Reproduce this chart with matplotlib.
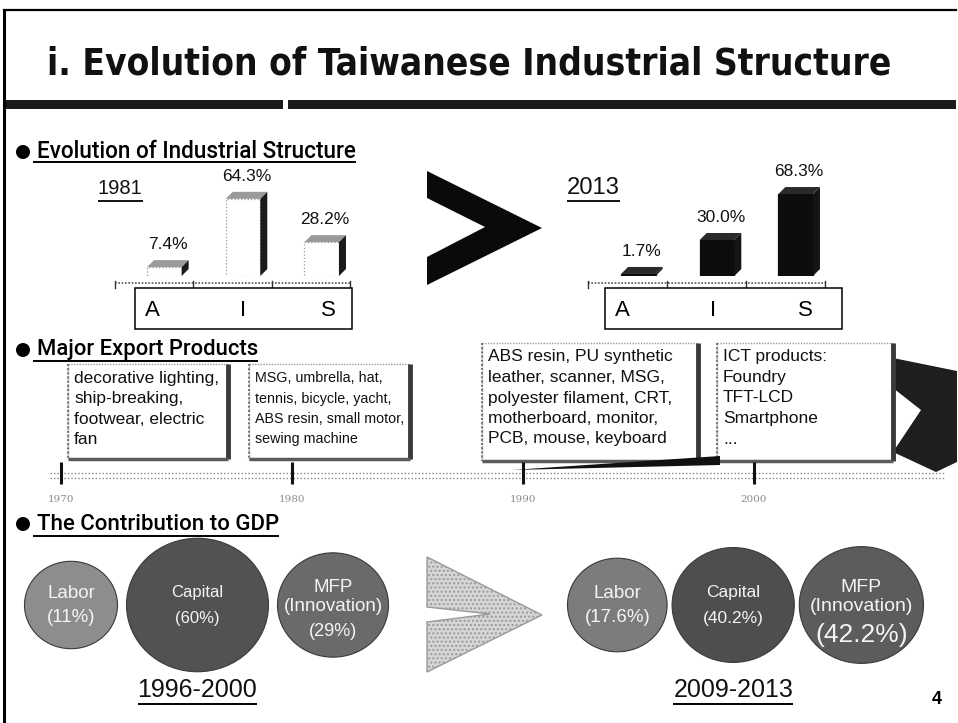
import matplotlib
matplotlib.use('Agg')
import matplotlib.pyplot as plt
from matplotlib.patches import Polygon, Rectangle, Ellipse, Circle
from matplotlib import font_manager as fm
import numpy as np

# ---------------- data ----------------
title = "i. Evolution of Taiwanese Industrial Structure"
headers = ["Evolution of Industrial Structure", "Major Export Products", "The Contribution to GDP"]
sectors = ['A', 'I', 'S']
struct_years = ['1981', '2013']
share_1981 = [7.4, 64.3, 28.2]
share_2013 = [1.7, 30.0, 68.3]
timeline_years = [1970, 1980, 1990, 2000]
export_products = [
    "decorative lighting,\nship-breaking,\nfootwear, electric\nfan",
    "MSG, umbrella, hat,\ntennis, bicycle, yacht,\nABS resin, small motor,\nsewing machine",
    "ABS resin, PU synthetic\nleather, scanner, MSG,\npolyester filament, CRT,\nmotherboard, monitor,\nPCB, mouse, keyboard",
    "ICT products:\nFoundry\nTFT-LCD\nSmartphone\n...",
]
gdp_factors = ['Labor', 'Capital', 'MFP\n(Innovation)']
gdp_periods = ['1996-2000', '2009-2013']
gdp_1996_2000 = [11, 60, 29]
gdp_2009_2013 = [17.6, 40.2, 42.2]
page_number = "4"

# ---------------- setup ----------------
W, H = 958, 723
fig = plt.figure(figsize=(W / 100, H / 100), dpi=100)
fig.patch.set_facecolor('white')
ax = fig.add_axes([0, 0, 1, 1])
ax.set_xlim(0, W)
ax.set_ylim(H, 0)
ax.axis('off')
renderer = fig.canvas.get_renderer()

names = {f.name for f in fm.fontManager.ttflist}
SANS = 'Liberation Sans'
HEAD = 'Roboto' if 'Roboto' in names else SANS

# look for a condensed / narrow bold face for the title
bold_c = []
for f in fm.fontManager.ttflist:
    narrowish = ('Narrow' in f.name or 'Condensed' in f.name or
                 str(f.stretch) in ('condensed', 'semi-condensed', 'extra-condensed'))
    if not narrowish or 'Italic' in f.fname or 'Oblique' in f.fname:
        continue
    w = f.weight if isinstance(f.weight, int) else (700 if 'bold' in str(f.weight) else 400)
    bold_c.append((abs(w - 700), f.fname))
title_fp = fm.FontProperties(fname=sorted(bold_c)[0][1]) if bold_c else None


def fit_text(x, y, s, target_w, **kw):
    t = ax.text(x, y, s, **kw)
    bb = t.get_window_extent(renderer)
    t.set_fontsize(t.get_fontsize() * target_w / bb.width)
    return t


def underline(t, y, x0=None, lw=1.4):
    bb = t.get_window_extent(renderer)
    ax.plot([bb.x0 if x0 is None else x0, bb.x1], [y, y], color='black', lw=lw,
            solid_capstyle='butt')


# slide border + title band
ax.plot([4, 4], [10, H], color='black', lw=2.2)
ax.plot([4, 956], [10, 10], color='black', lw=1.6)
if title_fp is not None:
    fit_text(47, 64, title, 840, fontproperties=title_fp, va='center', ha='left',
             color='#111111')
else:
    fit_text(47, 64, title, 840, family=SANS, fontsize=30, fontweight='bold',
             va='center', ha='left', color='#111111')
ax.add_patch(Rectangle((6, 100), 277, 9, fc='#1b1b1b', ec='none'))
ax.add_patch(Rectangle((288, 100), 668, 9, fc='#1b1b1b', ec='none'))

# section headers
head_pos = [(152, 321, 162), (350, 222, 361), (524, 243, 536)]
for txt, (yc, wdt, yu) in zip(headers, head_pos):
    ax.add_patch(Circle((23, yc), 7, fc='black', ec='none'))
    t = fit_text(37, yc, txt, wdt, family=HEAD, fontweight='medium', fontsize=14,
                 va='center', ha='left', color='black')
    underline(t, yu, x0=33)

# ---------------- 3D bar charts ----------------
PXPCT = 1.2   # pixels per percent
DEPTH = 7     # pixels of 3D depth


def bar3d(x0, x1, ybase, ytop, vals, front, top, side, edge, ls):
    bax = fig.add_axes([x0 / W, (H - ybase) / H, (x1 - x0) / W, (ybase - ytop) / H])
    bax.set_xlim(-0.5, 2.5)
    bax.set_ylim(0, (ybase - ytop) / PXPCT)
    bax.axis('off')
    xs = np.arange(len(vals))
    bw = 0.44
    bax.bar(xs, vals, width=bw, color=front, edgecolor=edge, linewidth=0.9,
            linestyle=ls, zorder=2)
    dx = DEPTH / ((x1 - x0) / 3.0)
    dy = DEPTH / PXPCT
    for x, v in zip(xs, vals):
        l, r = x - bw / 2, x + bw / 2
        bax.add_patch(Polygon([(l, v), (r, v), (r + dx, v + dy), (l + dx, v + dy)],
                              closed=True, fc=top, ec='none', clip_on=False, zorder=3))
        bax.add_patch(Polygon([(r, 0), (r + dx, dy), (r + dx, v + dy), (r, v)],
                              closed=True, fc=side, ec='none', clip_on=False, zorder=3))
        bax.annotate(f"{v:.1f}%", (x + dx / 2, v + dy), xytext=(0, 11),
                     textcoords='offset points', ha='center', va='center',
                     fontsize=12.5, family=SANS, color='#111111', annotation_clip=False)
    return bax


charts = [
    dict(vals=share_1981, ax0=125, ax1=361, floor=(115, 350), box=(135, 352),
         front='white', top='#9a9a9a', side='#1a1a1a', edge='#9a9a9a', ls=':',
         year_x=(98, 143), lab_x=[152, 243, 328]),
    dict(vals=share_2013, ax0=599, ax1=835, floor=(588, 825), box=(605, 842),
         front='#0d0d0d', top='#2a2a2a', side='#151515', edge='#0d0d0d', ls='-',
         year_x=(567, 620), lab_x=[622, 713, 805]),
]
for yr, c in zip(struct_years, charts):
    bar3d(c['ax0'], c['ax1'], 276, 176, c['vals'], c['front'], c['top'], c['side'],
          c['edge'], c['ls'])
    f0, f1 = c['floor']
    ax.plot([f0, f1], [283, 283], color='#555555', lw=1.2, ls=(0, (1, 1)))
    for k in range(len(sectors) + 1):
        xb = f0 + (f1 - f0) * k / len(sectors)
        ax.plot([xb, xb], [281, 288], color='#333333', lw=1)
    b0, b1 = c['box']
    ax.add_patch(Rectangle((b0, 288), b1 - b0, 41, fc='white', ec='black', lw=1.1, zorder=4))
    for s, lx in zip(sectors, c['lab_x']):
        ax.text(lx, 310, s, ha='center', va='center', fontsize=16, family=SANS,
                color='black', zorder=5)
    t = fit_text(c['year_x'][0], 188, yr, c['year_x'][1] - c['year_x'][0],
                 family=SANS, fontsize=15, ha='left', va='center', color='#111111')
    underline(t, 201, lw=1.3)

# big black chevron between charts
ax.add_patch(Polygon([(427, 171), (542, 228), (427, 285), (427, 257), (485, 227), (427, 198)],
                     closed=True, fc='#0a0a0a', ec='none'))

# ---------------- export products timeline ----------------
tax = fig.add_axes([50 / W, (H - 512) / H, (945 - 50) / W, (512 - 455) / H])
tax.set_xlim(1970 - 11 / 23.1, 1970 + 884 / 23.1)
tax.set_ylim(512, 455)
tax.axis('off')
xl0, xl1 = tax.get_xlim()
tax.plot([xl0, xl1], [472.5, 472.5], color='#888888', lw=1, ls=(0, (1, 1.5)))
tax.plot([xl0, xl1], [477.5, 477.5], color='#888888', lw=1, ls=(0, (1, 1.5)))
tax.vlines(timeline_years, 462, 484, color='#111111', lw=2.2)
for yv in timeline_years:
    tax.text(yv, 500, str(yv), ha='center', va='center', fontsize=7.5,
             family='DejaVu Serif', color='#8a8a8a')

boxes = [(68, 364, 228, 459), (249, 364, 410, 459), (482, 343, 698, 461), (717, 343, 893, 461)]
BOX_FS = 12.5
PITCH = 20.5
for (x0, y0, x1, y1), txt in zip(boxes, export_products):
    ax.add_patch(Rectangle((x0, y0), x1 - x0, y1 - y0, fc='white', ec='#9a9a9a', lw=1,
                           ls=(0, (1, 1)), zorder=3))
    ax.plot([x1, x1], [y0, y1], color='#3a3a3a', lw=3.5, zorder=4, solid_capstyle='butt')
    ax.plot([x0, x1], [y1, y1], color='#5a5a5a', lw=2.5, zorder=4, solid_capstyle='butt')
    ax.plot([x0, x0], [y0, y1], color='#777777', lw=1.5, zorder=4, ls=(0, (1, 1)))
    lines = txt.split('\n')
    objs = [ax.text(x0 + 6, y0 + 14 + k * PITCH, ln, ha='left', va='center',
                    fontsize=BOX_FS, family=SANS, color='#111111', zorder=5)
            for k, ln in enumerate(lines)]
    widest = max(o.get_window_extent(renderer).width for o in objs)
    avail = (x1 - x0) - 12
    if widest > avail:
        for o in objs:
            o.set_fontsize(BOX_FS * avail / widest)

# callout tail from 1990 toward 2000 box
ax.add_patch(Polygon([(512, 470), (720, 456), (720, 465)], closed=True, fc='#111111',
                     ec='none', zorder=5))
# right chevron (cut by page edge)
ax.add_patch(Polygon([(893, 358), (957, 371), (957, 462), (936, 472), (893, 452),
                      (921, 410), (893, 388)], closed=True, fc='#1e1e1e', ec='none'))

# ---------------- contribution to GDP ----------------
fills = [['#8d8d8d', '#525252', '#6a6a6a'], ['#7c7c7c', '#4e4e4e', '#5c5c5c']]
name_fs = [[13.5, 12, 13.5], [13.5, 12.5, 14]]
val_fs = [[13.5, 12, 13], [13.5, 12.5, 19]]
start_x = [24.5, 567.5]
gap = [9, 5]
cy = 605
for p, (period, vals) in enumerate(zip(gdp_periods, [gdp_1996_2000, gdp_2009_2013])):
    xl = start_x[p]
    centers = []
    for i, (fac, v) in enumerate(zip(gdp_factors, vals)):
        r = 41 + 0.5 * v
        cx = xl + r
        centers.append(cx)
        ax.add_patch(Ellipse((cx, cy), 2 * r, 2 * r * 0.94, fc=fills[p][i], ec='#3a3a3a',
                             lw=0.8, zorder=3))
        if '\n' in fac:
            ax.text(cx, cy - 8, fac, ha='center', va='center', fontsize=name_fs[p][i],
                    family=SANS, color='#f4f4f4', linespacing=1.15, zorder=4)
            ax.text(cx, cy + 27 + (3 if p == 1 else 0), f"({v:g}%)", ha='center',
                    va='center', fontsize=val_fs[p][i], family=SANS, color='#f4f4f4',
                    zorder=4)
        else:
            ax.text(cx, cy - 12, fac, ha='center', va='center', fontsize=name_fs[p][i],
                    family=SANS, color='#f4f4f4', zorder=4)
            ax.text(cx, cy + 13, f"({v:g}%)", ha='center', va='center',
                    fontsize=val_fs[p][i], family=SANS, color='#f4f4f4', zorder=4)
        xl = cx + r + gap[p]
    t = ax.text(centers[1], 690, period, ha='center', va='center', fontsize=18,
                family=SANS, color='#111111')
    underline(t, 704, lw=1.4)

# gray chevron
ax.add_patch(Polygon([(427, 557), (542, 615), (427, 672), (427, 622), (490, 614), (427, 607)],
                     closed=True, fc='#d6d6d6', ec='#9a9a9a', lw=1, hatch='....'))

ax.text(937, 700, page_number, ha='center', va='center', fontsize=13, fontweight='bold',
        family=SANS, color='black')

fig.savefig('out.png', dpi=100, facecolor='white')
